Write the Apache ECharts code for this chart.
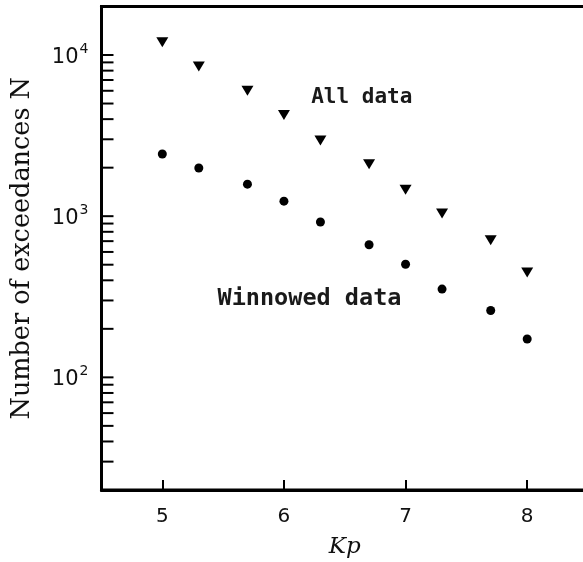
<!DOCTYPE html>
<html>
<head>
<meta charset="utf-8">
<script src="https://cdn.jsdelivr.net/npm/echarts@6/dist/echarts.min.js"></script>
<style>
html,body{margin:0;padding:0;background:#fff;}
#c{width:583px;height:562px;}
</style>
</head>
<body>
<div id="c"></div>
<script>
// Data
const kp = [5.0, 5.3, 5.7, 6.0, 6.3, 6.7, 7.0, 7.3, 7.7, 8.0];
const allData = [12000, 8500, 6000, 4250, 2950, 2100, 1460, 1040, 710, 447];
const winnowedData = [2430, 1990, 1580, 1240, 920, 665, 503, 353, 260, 173];
const xTicks = [5, 6, 7, 8];
const yMajorTicks = [100, 1000, 10000];
const yMinorTicks = [30, 40, 50, 60, 70, 80, 90,
  200, 300, 400, 500, 600, 700, 800, 900,
  2000, 3000, 4000, 5000, 6000, 7000, 8000, 9000];
const seriesNames = ['All data', 'Winnowed data'];
const labelAllPos = [6.64, 5430];
const labelWinPos = [6.21, 308];

const chart = echarts.init(document.getElementById('c'), null, {renderer: 'canvas'});
const yTickData = yMajorTicks.concat(yMinorTicks).map(v => [4.5, v]);

const option = {
  animation: false,
  backgroundColor: '#fff',
  grid: {left: 101.5, top: 6.5, right: -5, bottom: 72, show: true,
         outerBoundsMode: 'none', containLabel: false,
         borderColor: '#000', borderWidth: 3, backgroundColor: 'transparent'},
  xAxis: {
    type: 'value', min: 4.5, max: 8.5, interval: 0.5,
    axisLine: {show: true, lineStyle: {color: '#000', width: 3}},
    axisTick: {show: true, inside: true, length: 10, lineStyle: {color: '#000', width: 2},
      customValues: xTicks},
    axisLabel: {show: true, customValues: xTicks, margin: 17, color: '#111',
      fontFamily: 'DejaVu Sans', fontSize: 20},
    splitLine: {show: false},
    name: 'Kp', nameLocation: 'middle', nameGap: 46,
    nameTextStyle: {fontFamily: 'DejaVu Serif', fontStyle: 'italic', fontSize: 23, color: '#111'}
  },
  yAxis: {
    type: 'log', logBase: 10, min: 20, max: 20000,
    axisLine: {show: true, lineStyle: {color: '#000', width: 3}},
    axisTick: {show: false},
    axisLabel: {
      show: true, margin: 13, color: '#111',
      customValues: yMajorTicks,
      formatter: function (v) {
        const e = Math.round(Math.log10(v));
        return '{b|10}{s|' + e + '}';
      },
      rich: {
        b: {fontFamily: 'DejaVu Sans', fontSize: 21, color: '#111', verticalAlign: 'bottom', lineHeight: 26},
        s: {fontFamily: 'DejaVu Sans', fontSize: 14, color: '#111', verticalAlign: 'top', padding: [0, 0, 12, 1], lineHeight: 26}
      }
    },
    splitLine: {show: false},
    name: 'Number of exceedances N', nameLocation: 'middle', nameGap: 66,
    nameTextStyle: {fontFamily: 'DejaVu Serif', fontSize: 25.5, color: '#111'}
  },
  series: [
    {
      name: seriesNames[0], type: 'scatter',
      data: kp.map((x, i) => [x, allData[i]]),
      symbol: 'triangle', symbolRotate: 180, symbolSize: [12, 10],
      itemStyle: {color: '#000', opacity: 1},
      markPoint: {
        symbol: 'circle', symbolSize: 0,
        label: {show: true, position: 'inside', formatter: seriesNames[0],
          fontFamily: 'DejaVu Sans Mono', fontWeight: 'bold', fontSize: 21, color: '#1a1a1a'},
        data: [{coord: labelAllPos}]
      }
    },
    {
      name: seriesNames[1], type: 'scatter',
      data: kp.map((x, i) => [x, winnowedData[i]]),
      symbol: 'circle', symbolSize: 9,
      itemStyle: {color: '#000', opacity: 1},
      markPoint: {
        symbol: 'circle', symbolSize: 0,
        label: {show: true, position: 'inside', formatter: seriesNames[1],
          fontFamily: 'DejaVu Sans Mono', fontWeight: 'bold', fontSize: 23.5, color: '#1a1a1a'},
        data: [{coord: labelWinPos}]
      }
    },
    {
      name: 'yticks', type: 'custom', silent: true,
      data: yTickData,
      renderItem: function (params, api) {
        const p = api.coord([api.value(0), api.value(1)]);
        return {type: 'line', shape: {x1: p[0], y1: p[1], x2: p[0] + 12, y2: p[1]},
          style: {stroke: '#000', lineWidth: 2}};
      }
    }
  ]
};
chart.setOption(option);
</script>
</body>
</html>
